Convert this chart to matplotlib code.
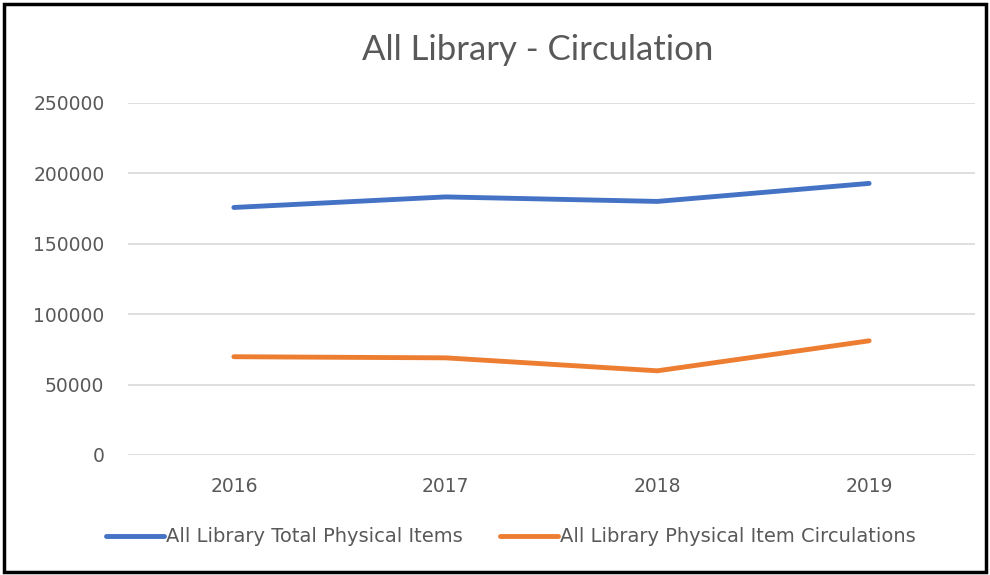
import matplotlib.pyplot as plt
from matplotlib.patches import Rectangle

# Data
years = ['2016', '2017', '2018', '2019']
total_items = [175800, 183300, 180100, 192900]
circulations = [69800, 69000, 59800, 81100]

plt.rcParams['font.family'] = ['Lato', 'DejaVu Sans']

fig = plt.figure(figsize=(9.9, 5.75), dpi=100)
ax = fig.add_axes([128 / 990, 1 - 455 / 575, (975 - 128) / 990, (455 - 103) / 575])

x = range(len(years))
ax.plot(x, total_items, color='#4472C4', lw=3.5, solid_capstyle='round',
        solid_joinstyle='round', label='All Library Total Physical Items')
ax.plot(x, circulations, color='#ED7D31', lw=3.5, solid_capstyle='round',
        solid_joinstyle='round', label='All Library Physical Item Circulations')

ax.set_xlim(-0.5, len(years) - 0.5)
ax.set_ylim(0, 250000)
ax.set_yticks(range(0, 250001, 50000))
ax.set_xticks(list(x))
ax.set_xticklabels(years)
ax.grid(axis='y', color='#d9d9d9', lw=1.2)
ax.set_axisbelow(True)
for s in ax.spines.values():
    s.set_visible(False)
ax.tick_params(length=0, colors='#595959', labelsize=13.5)
for lbl in ax.get_xticklabels() + ax.get_yticklabels():
    lbl.set_family('DejaVu Sans')
ax.tick_params(axis='y', pad=17)
ax.tick_params(axis='x', pad=16)

fig.text(0.543, 1 - 50 / 575, 'All Library - Circulation', ha='center', va='center',
         fontsize=25, color='#595959')

fig.legend(loc='center', bbox_to_anchor=(0.516, 1 - 537 / 575), ncol=2, frameon=False,
           prop={'family': 'DejaVu Sans', 'size': 14}, handlelength=3.0,
           handletextpad=0.1, columnspacing=1.9, labelcolor='#595959')

fig.patches.append(Rectangle((4 / 990, 3 / 575), 982 / 990, 568 / 575, fill=False,
                             edgecolor='black', lw=2.5, transform=fig.transFigure))

fig.savefig('out.png', dpi=100)
